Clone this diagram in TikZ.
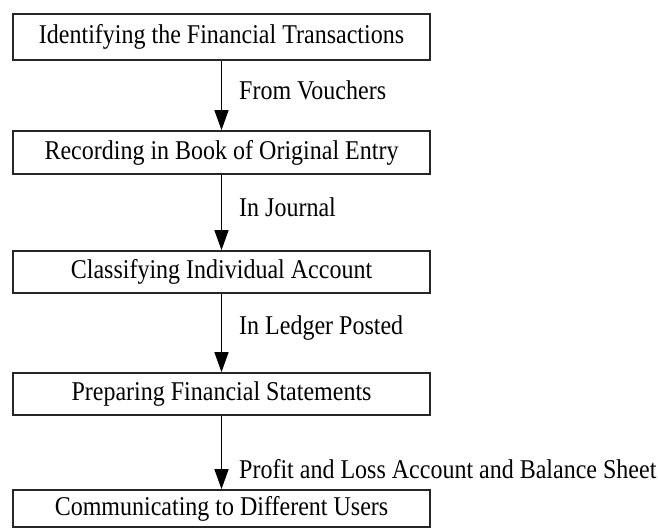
\documentclass[tikz,border=0pt]{standalone}
\usepackage{fontspec}
\usepackage{graphicx}
\setmainfont{Liberation Serif}
\usetikzlibrary{arrows.meta}
\newcommand{\talltxt}[1]{\scalebox{1}[1.13]{#1}}
\begin{document}
\begin{tikzpicture}[x=1pt,y=1pt,
  stepbox/.style={draw=black!85, line width=1.7pt, minimum width=417pt, inner sep=0pt, font=\fontsize{24}{26}\selectfont},
  flow/.style={line width=1.4pt, -{Triangle[width=14pt,length=20pt]}},
  lbl/.style={anchor=west, inner sep=0pt, font=\fontsize{24}{26}\selectfont}]
\useasboundingbox (0,0) rectangle (658,-529);
\node[stepbox, minimum height=46pt] (b1) at (221.5,-37) {\talltxt{Identifying the Financial Transactions}};
\node[stepbox, minimum height=43pt] (b2) at (221.5,-152.5) {\talltxt{Recording in Book of Original Entry}};
\node[stepbox, minimum height=42pt] (b3) at (221.5,-272) {\talltxt{Classifying Individual Account}};
\node[stepbox, minimum height=42pt] (b4) at (221.5,-394) {\talltxt{Preparing Financial Statements}};
\node[stepbox, minimum height=37pt] (b5) at (221.5,-508.5) {\talltxt{Communicating to Different Users}};
\draw[flow] (b1) -- (b2);
\draw[flow] (b2) -- (b3);
\draw[flow] (b3) -- (b4);
\draw[flow] (b4) -- (b5);
\node[lbl] (l1) at (239,-90) {\talltxt{From Vouchers}};
\node[lbl] (l2) at (239,-207) {\talltxt{In Journal}};
\node[lbl] (l3) at (239,-328) {\talltxt{In Ledger Posted}};
\node[lbl] (l4) at (239,-469) {\talltxt{Profit and Loss Account and Balance Sheet}};
\end{tikzpicture}
\end{document}
